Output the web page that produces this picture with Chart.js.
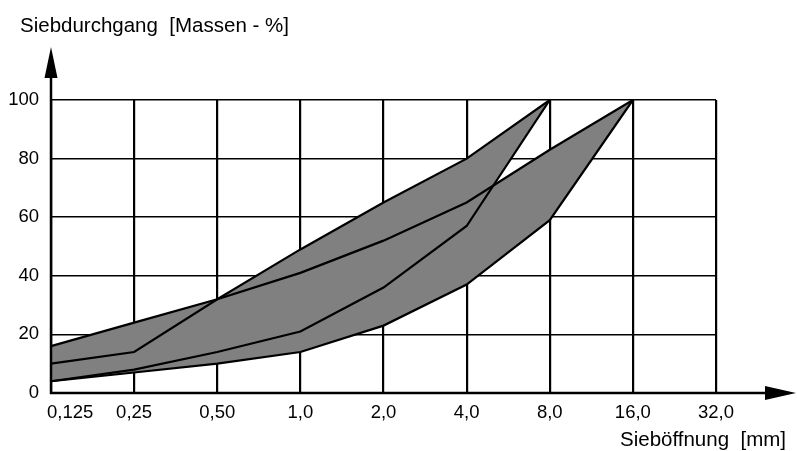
<!DOCTYPE html>
<html>
<head>
<meta charset="utf-8">
<script src="https://cdn.jsdelivr.net/npm/chart.js@4"></script>
<style>
  html, body { margin: 0; padding: 0; background: #fff; }
  #wrap { width: 797px; height: 451px; }
</style>
</head>
<body>
<div id="wrap"><canvas id="chart"></canvas></div>
<script>
// Sieblinien-Daten
const sieveSizes = ['0,125', '0,25', '0,50', '1,0', '2,0', '4,0', '8,0', '16,0', '32,0'];
const yTicks = [0, 20, 40, 60, 80, 100];
const upper08 = [16, 24, 32, 49, 65, 80, 100, null, null];
const lower08 = [4, 8, 14, 21, 36, 57, 100, null, null];
const upper016 = [10, 14, 32, 41, 52, 65, 83, 100, null];
const lower016 = [4, 7, 10, 14, 23, 37, 59, 100, null];
const yTitle = 'Siebdurchgang  [Massen - %]';
const xTitle = 'Sieböffnung  [mm]';

const FONT = '"Liberation Sans", Arial, sans-serif';
const GREY = '#808080';

// Achsenpfeile, Achsentitel und erstes x-Label
const decor = {
  id: 'decor',
  afterDraw(chart) {
    const ctx = chart.ctx;
    const a = chart.chartArea;
    ctx.save();
    ctx.strokeStyle = '#000';
    ctx.fillStyle = '#000';
    ctx.lineWidth = 2.5;

    // y-Achse mit Pfeil
    ctx.beginPath();
    ctx.moveTo(a.left, a.bottom + 1);
    ctx.lineTo(a.left, a.top - 30);
    ctx.stroke();
    ctx.beginPath();
    ctx.moveTo(a.left, a.top - 53);
    ctx.lineTo(a.left - 6.5, a.top - 22);
    ctx.lineTo(a.left + 6.5, a.top - 22);
    ctx.closePath();
    ctx.fill();

    // x-Achse mit Pfeil
    ctx.beginPath();
    ctx.moveTo(a.left - 1, a.bottom);
    ctx.lineTo(a.right + 55, a.bottom);
    ctx.stroke();
    ctx.beginPath();
    ctx.moveTo(a.right + 80, a.bottom);
    ctx.lineTo(a.right + 49, a.bottom - 7);
    ctx.lineTo(a.right + 49, a.bottom + 7);
    ctx.closePath();
    ctx.fill();

    // erstes Label linksbündig
    ctx.font = '18.5px ' + FONT;
    ctx.textAlign = 'left';
    ctx.textBaseline = 'middle';
    ctx.fillText(sieveSizes[0], chart.scales.x.getPixelForValue(0) - 4, a.bottom + 20);

    // Titel
    ctx.font = '20.5px ' + FONT;
    ctx.textBaseline = 'alphabetic';
    ctx.textAlign = 'left';
    ctx.fillText(yTitle, 20, 32);
    ctx.textAlign = 'right';
    ctx.fillText(xTitle, 786, 446);
    ctx.restore();
  }
};

const lineDs = (data, fill) => ({
  data: data,
  borderColor: '#000',
  borderWidth: 2.2,
  backgroundColor: GREY,
  fill: fill,
  pointRadius: 0,
  tension: 0,
  spanGaps: false
});

new Chart(document.getElementById('chart'), {
  type: 'line',
  data: {
    labels: sieveSizes,
    datasets: [
      lineDs(upper08, '+1'),
      lineDs(lower08, false),
      lineDs(upper016, '+1'),
      lineDs(lower016, false)
    ]
  },
  options: {
    responsive: true,
    maintainAspectRatio: false,
    animation: false,
    layout: { padding: { top: 100, right: 81, bottom: 0, left: 0 } },
    plugins: {
      legend: { display: false },
      tooltip: { enabled: false },
      filler: { drawTime: 'beforeDatasetsDraw' }
    },
    scales: {
      x: {
        offset: false,
        border: { display: false },
        grid: { color: '#000', lineWidth: 2.2, drawTicks: false },
        ticks: {
          color: '#000',
          font: { family: FONT, size: 18.5 },
          padding: 9,
          maxRotation: 0,
          autoSkip: false,
          callback: (v, i) => i === 0 ? '' : sieveSizes[i]
        },
        afterFit: s => { s.height = 58; }
      },
      y: {
        min: 0,
        max: 100,
        border: { display: false },
        grid: { color: '#000', lineWidth: 1.5, drawTicks: false },
        ticks: {
          color: '#000',
          font: { family: FONT, size: 18.5 },
          padding: 12
        },
        afterBuildTicks: s => { s.ticks = yTicks.map(v => ({ value: v })); },
        afterFit: s => { s.width = 51; }
      }
    }
  },
  plugins: [decor]
});
</script>
</body>
</html>
